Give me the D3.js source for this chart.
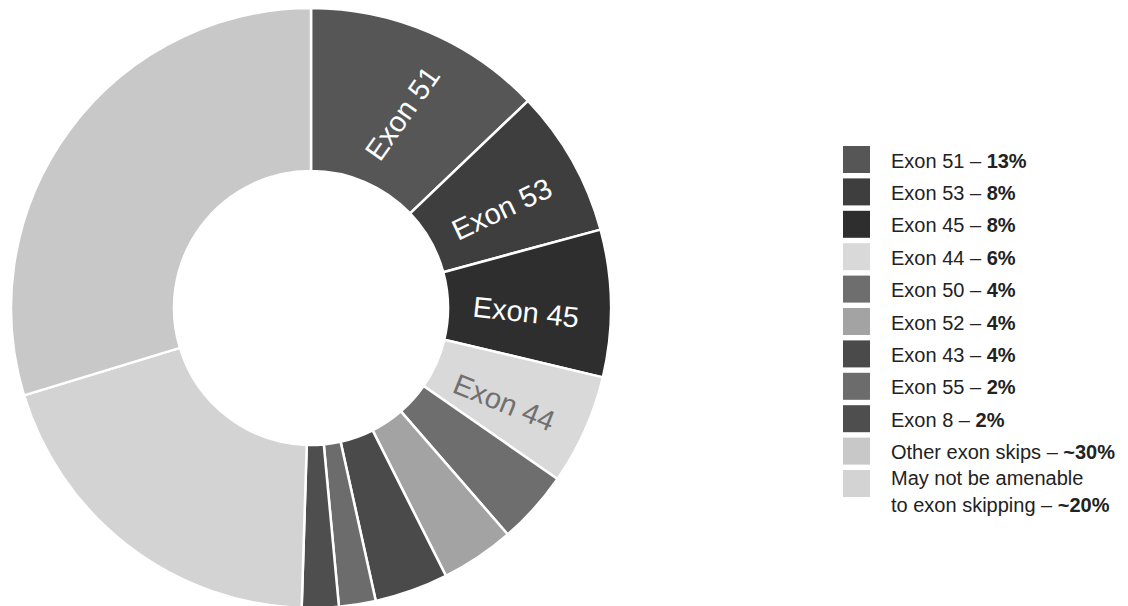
<!DOCTYPE html>
<html>
<head>
<meta charset="utf-8">
<script src="https://cdn.jsdelivr.net/npm/d3@7"></script>
<style>
  html, body { margin: 0; padding: 0; background: #fff; }
  svg { display: block; font-family: "Liberation Sans", Arial, sans-serif; }
</style>
</head>
<body>
<svg id="chart" width="1128" height="606"></svg>
<script>
// --- data (legend order) ---
const categories = ['Exon 51', 'Exon 53', 'Exon 45', 'Exon 44', 'Exon 50', 'Exon 52',
                    'Exon 43', 'Exon 55', 'Exon 8', 'Other exon skips',
                    'May not be amenable to exon skipping']
const shares      = [13, 8, 8, 6, 4, 4, 4, 2, 2, 30, 20]
const shareLabels = ['13%', '8%', '8%', '6%', '4%', '4%', '4%', '2%', '2%', '~30%', '~20%']
// the ring draws the last two the other way round
const ringOrder   = [0, 1, 2, 3, 4, 5, 6, 7, 8, 10, 9]
const sliceLabels = ['Exon 51', 'Exon 53', 'Exon 45', 'Exon 44']

// --- styles ---
const fills = ['#565656', '#3e3e3e', '#2e2e2e', '#d9d9d9', '#6e6e6e', '#a3a3a3',
               '#4a4a4a', '#6c6c6c', '#4e4e4e', '#c8c8c8', '#d3d3d3']
const labelInk  = {'Exon 44': '#707070'}
const labelTilt = {'Exon 51': 10, 'Exon 53': 2, 'Exon 45': 5, 'Exon 44': -4}

const svg = d3.select('#chart')
const cx = 311, cy = 308
const outerR = 300, innerR = 137

const color = d3.scaleOrdinal().domain(categories).range(fills)

const rows = categories.map((c, i) => ({name: c, value: shares[i], pct: shareLabels[i]}))
const ringData = ringOrder.map(i => rows[i])

const pie = d3.pie().sort(null).value(d => d.value)
const arc = d3.arc().innerRadius(innerR).outerRadius(outerR)

const g = svg.append('g').attr('transform', `translate(${cx},${cy})`)

const arcs = pie(ringData)

g.selectAll('path')
  .data(arcs)
  .join('path')
    .attr('d', arc)
    .attr('fill', d => color(d.data.name))
    .attr('stroke', '#fff')
    .attr('stroke-width', 2.5)
    .attr('stroke-linejoin', 'round')

// slice labels, laid along the radius (a touch past the middle of each slice)
const labelR = 215
const nudge = 2 * Math.PI / 180
g.selectAll('text.slice')
  .data(arcs.filter(d => sliceLabels.includes(d.data.name)))
  .join('text')
    .attr('class', 'slice')
    .attr('transform', d => {
      const a = (d.startAngle + d.endAngle) / 2 + nudge
      const x = labelR * Math.sin(a)
      const y = -labelR * Math.cos(a)
      const rot = a * 180 / Math.PI - 90 + (labelTilt[d.data.name] || 0)
      return `translate(${x},${y}) rotate(${rot})`
    })
    .attr('text-anchor', 'middle')
    .attr('dominant-baseline', 'central')
    .attr('font-size', 29)
    .attr('fill', d => labelInk[d.data.name] || '#fff')
    .text(d => d.data.name)

// --- legend ---
const legendX = 843, legendY = 146, step = 32.4, box = 27

const legend = svg.append('g')
const item = legend.selectAll('g')
  .data(rows)
  .join('g')
    .attr('transform', (d, i) => `translate(${legendX},${legendY + i * step})`)

item.append('rect')
  .attr('width', box)
  .attr('height', box)
  .attr('fill', d => color(d.name))

item.each(function (d) {
  const el = d3.select(this)
  const wrap = d.name === 'May not be amenable to exon skipping'
  const lines = wrap ? ['May not be amenable', 'to exon skipping'] : [d.name]
  const t = el.append('text')
    .attr('x', 48)
    .attr('font-size', 20)
    .attr('fill', '#222')
  lines.forEach((ln, k) => {
    const last = k === lines.length - 1
    t.append('tspan')
      .attr('x', 48)
      .attr('y', wrap ? 15 + k * 26.5 : 21.5)
      .text(last ? ln + ' \u2013 ' : ln)
    if (last) {
      t.append('tspan').attr('font-weight', 'bold').text(d.pct)
    }
  })
})
</script>
</body>
</html>
